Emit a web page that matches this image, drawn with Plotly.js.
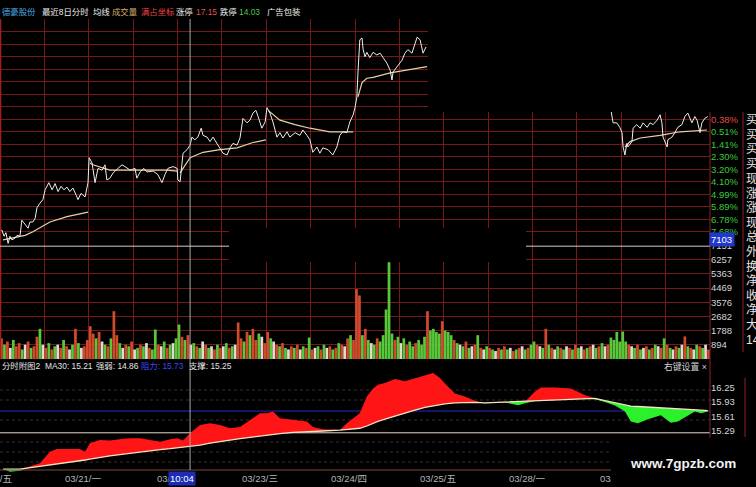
<!DOCTYPE html>
<html><head><meta charset="utf-8">
<script src="https://cdn.plot.ly/plotly-3.0.1.min.js"></script>
<style>html,body{margin:0;padding:0;background:#000;overflow:hidden}#chart{width:756px;height:487px}</style>
</head><body><div id="chart"></div>
<script>
// ---------------- DATA ----------------
const stockName = '德豪股份';
const limitUp = 17.15, limitDown = 14.03;
const dayLabels = ['03/18/五','03/21/一','03/','03/23/三','03/24/四','03/25/五','03/28/一','03/'];
const crossTime = '10:04';
const crossVolume = 7103;

// price (minute index within 8 sessions, value)
const priceIdx = [0,5,11,16,22,27,32,41,46,54,59,68,76,81,89,95,100,108,116,122,127,132,141,149,157,165,173,181,189,197,206,211,219,230,238,
 241,249,257,265,276,284,289,297,306,319,330,338,352,365,370,379,389,397,414,427,438,446,454,468,479,
 481,487,495,506,514,519,527,535,544,549,560,568,576,587,595,603,614,622,630,641,649,654,657,668,676,684,692,698,708,717,
 722,730,738,749,757,765,776,784,798,811,819,830,838,846,857,865,873,887,900,911,919,927,938,946,955,
 960,965,968,973,979,982,987,992,1000,1009,1019,1028,1036,1046,1055,1060,1063,1073,1087,1095,1103,1114,1122,1128,1136,1144,1152,
 null,
 1650,1655,1658,1668,1676,1682,1685,1690,1695,1698,1709,1712,1722,1731,1739,1750,1758,1766,1777,1785,1790,1793,1804,1806,1817,1825,1833,1844,1852,1860,1871,1879,1885,1893,1898,1906,1914];
const priceVal = [14.39,14.41,14.34,14.38,14.26,14.34,14.30,14.32,14.35,14.34,14.52,14.47,14.43,14.50,14.50,14.54,14.66,14.71,14.75,14.86,14.91,14.94,14.86,14.93,14.84,14.90,14.86,14.89,14.84,14.88,14.80,14.75,14.82,14.78,14.94,
 15.22,15.16,14.94,15.10,15.08,15.14,14.97,14.99,15.05,15.10,15.14,15.12,15.08,15.10,14.99,15.06,15.10,15.06,15.07,15.03,14.94,15.03,15.10,15.12,15.10,
 14.97,14.95,15.27,15.31,15.36,15.45,15.42,15.45,15.55,15.47,15.45,15.40,15.45,15.38,15.33,15.27,15.25,15.33,15.38,15.36,15.44,15.59,15.66,15.61,15.64,15.72,15.75,15.68,15.55,15.62,
 15.78,15.72,15.62,15.45,15.50,15.44,15.51,15.45,15.50,15.47,15.53,15.47,15.42,15.28,15.34,15.27,15.33,15.31,15.25,15.34,15.47,15.51,15.50,15.62,15.70,
 15.78,15.90,16.17,16.54,16.56,16.43,16.35,16.40,16.34,16.40,16.37,16.39,16.34,16.28,16.20,16.09,16.18,16.24,16.31,16.39,16.43,16.39,16.48,16.57,16.54,16.39,16.46,
 null,
 15.80,15.70,15.61,15.61,15.56,15.50,15.34,15.25,15.38,15.34,15.40,15.55,15.59,15.55,15.61,15.56,15.61,15.59,15.64,15.70,15.61,15.45,15.34,15.42,15.45,15.50,15.56,15.59,15.68,15.72,15.61,15.68,15.64,15.50,15.61,15.66,15.68];

// daily average price line
const avgIdx = [8,32,68,89,135,181,238,null,243,251,297,360,452,479,null,487,514,549,595,641,684,719,null,725,757,798,838,892,955,null,968,979,992,1009,1055,1101,1155,null,1690,1704,1731,1785,1839,1874,1912];
const avgVal = [14.30,14.32,14.35,14.39,14.50,14.56,14.61,null,15.16,15.14,15.08,15.08,15.08,15.07,null,15.05,15.22,15.28,15.31,15.33,15.39,15.42,null,15.75,15.64,15.59,15.55,15.51,15.51,null,15.90,16.06,16.11,16.12,16.17,16.20,16.24,null,15.34,15.40,15.44,15.47,15.51,15.52,15.53];

// volume, 8-minute buckets, 30 per session
const volume = [
 1300,900,1100,700,1200,800,1000,600,900,1100,700,800,1400,1900,900,700,1000,600,800,900,700,1200,800,600,900,1900,1000,700,800,1200,
 2065,1600,1300,1700,1100,900,800,1300,3010,1500,1000,700,900,800,1100,600,700,900,800,1000,700,600,1860,900,800,1100,700,900,1000,1300,
 2170,1400,1200,1500,900,1000,800,700,1100,900,700,800,600,900,700,800,1000,700,800,900,2300,1300,1100,1700,1500,1900,1200,1600,1400,1000,
 1700,1300,1100,900,800,1000,700,600,800,700,900,600,800,700,1350,600,700,800,600,900,700,800,600,700,1000,900,800,1300,1500,1200,
 4400,4000,1500,1900,1200,1000,900,1300,1100,1500,3117,6094,1600,1200,1400,1000,1300,900,1100,800,1000,1200,900,1400,3010,1800,1900,1700,1600,2380,
 1800,1700,1500,1200,1000,900,800,1100,700,800,900,1500,700,600,800,700,600,500,700,600,800,600,700,500,600,700,800,600,700,900,
 1100,900,800,700,1900,900,700,600,800,700,600,800,700,600,900,700,800,600,700,800,900,700,800,1000,800,900,1350,1200,1700,1100,
 1730,1100,900,800,700,900,600,700,800,600,700,900,800,700,1300,900,700,600,800,700,900,1420,800,700,600,900,800,700,900,600];
// r = up, g = down, w = flat
const volDir = 'rgrwgrrgwrgrrgwrgrgwrgrwgrgwrr' + 'rrgrwgrgrrgwrgrwgrgwrggrwgrgwg' + 'grgrwgrgwrgwrgrwgrgwrrgrgrrgwr' +
 'rgwrgrgwrgrwgrgrwgrgwrgrgrwrgr' + 'rrgrgwgrgggggrgwgrggrgggrggggr' + 'gggrgwgrgwrgrwgrgwrgrgwrgrwgrg' +
 'grwgrgrwgrgwrgrgwrgrwgrgwrgggg' + 'ggrwgrgwrgrgwrgrgwrgwrgrwgrgwr';

// indicator (分时附图2)
const ma30Now = 15.21, strength = 14.86, resistance = 15.73, support = 15.25;
const indIdx = [8,27,54,73,108,135,154,181,216,230,243,270,297,324,352,379,406,433,460,479,495,514,541,568,595,622,649,676,703,722,738,757,792,830,846,873,919,938,973,992,1009,1022,1041,1068,1095,1122,1149,1171,1190,1203,1230,1257,1284,1311,1338,1366,1382,1401,1420,1447,1463,1501,1544,1582,1609,1636,1663,1690,1706,1725,1752,1787,1814,1833,1860,1879,1896,1914];
const indUpper = [14.45,14.39,14.41,14.49,14.58,14.83,14.89,14.89,14.89,14.83,15.02,15.09,15.08,15.11,15.13,15.13,15.09,15.05,15.11,15.13,15.08,15.24,15.42,15.46,15.42,15.35,15.38,15.53,15.68,15.68,15.72,15.57,15.53,15.50,15.38,15.33,15.31,15.46,15.68,16.05,16.23,16.31,16.35,16.44,16.39,16.46,16.53,16.57,16.46,16.34,16.12,16.05,15.96,15.90,15.91,15.94,15.89,15.86,15.90,16.16,16.25,16.25,16.23,16.08,15.99,15.93,15.85,15.72,15.50,15.46,15.55,15.64,15.47,15.50,15.64,15.72,15.68,15.72];
const indMA = [14.45,14.45,14.45,14.47,14.51,14.54,14.56,14.58,14.63,14.65,14.67,14.71,14.74,14.77,14.80,14.83,14.86,14.88,14.90,14.92,14.93,14.94,14.98,15.02,15.06,15.09,15.12,15.15,15.18,15.20,15.22,15.23,15.26,15.28,15.29,15.29,15.31,15.32,15.35,15.40,15.46,15.50,15.55,15.62,15.69,15.75,15.81,15.84,15.87,15.89,15.91,15.92,15.92,15.91,15.92,15.92,15.92,15.93,15.94,15.95,15.96,15.97,15.99,16.01,16.01,15.96,15.91,15.86,15.84,15.83,15.82,15.80,15.79,15.78,15.77,15.76,15.75,15.74];

// axis tick labels
const priceTicks = [16.77,16.63,16.49,16.35,16.21,16.07,15.93,15.79,15.65,15.51,15.37,15.23,15.09,14.95,14.81,14.67,14.53,14.39];
const pctLabels = ['','','','','','','','','0.38%','0.51%','1.41%','2.30%','3.20%','4.10%','4.99%','5.89%','6.78%','7.68%'];
const volTicks = [894,1788,2682,3576,4469,5363,6257,7151];
const indTicks = [15.29,15.61,15.93,16.25];
const sideLabels = ['买','买','买','买','现','涨','涨','现','总','外','换','净','收','净','大','14'];

// ---------------- DRAW ----------------
const H = 487, PW = 710;
const px = v => v / PW, py = v => 1 - v / H;
const FONT = 'Liberation Sans, Noto Sans CJK SC, sans-serif';
const GRID = '#761818';
const sessions = 8, perDay = 240;
const halfDayTicks = []; for (let i = 0; i <= sessions * 2; i++) halfDayTicks.push(i * perDay / 2);
const dirColor = {r:'#d24a2c', g:'#58c83a', w:'#dedcd0'};

const traces = [
 {x: avgIdx, y: avgVal, xaxis:'x', yaxis:'y', mode:'lines', line:{color:'#e6d2a4', width:1.2}, connectgaps:false},
 {x: priceIdx, y: priceVal, xaxis:'x', yaxis:'y', mode:'lines', line:{color:'#eeeeee', width:1}, connectgaps:false},
 {type:'bar', x: volume.map((v,i) => i*8+4), y: volume, xaxis:'x2', yaxis:'y2', width:7.4,
  marker:{color: volume.map((v,i) => dirColor[volDir[i]]), line:{width:0}}},
 {x: indIdx, y: indMA, xaxis:'x3', yaxis:'y3', mode:'lines', line:{width:0, color:'rgba(0,0,0,0)'}},
 {x: indIdx, y: indUpper.map((u,i) => Math.max(u, indMA[i])), xaxis:'x3', yaxis:'y3', mode:'lines', fill:'tonexty', fillcolor:'#ff1515', line:{width:0, color:'rgba(0,0,0,0)'}},
 {x: indIdx, y: indMA, xaxis:'x3', yaxis:'y3', mode:'lines', line:{width:0, color:'rgba(0,0,0,0)'}},
 {x: indIdx, y: indUpper.map((u,i) => Math.min(u, indMA[i])), xaxis:'x3', yaxis:'y3', mode:'lines', fill:'tonexty', fillcolor:'#2cf02c', line:{width:0, color:'rgba(0,0,0,0)'}},
 {x: indIdx, y: indMA, xaxis:'x3', yaxis:'y3', mode:'lines', line:{color:'#f6e2c4', width:1.3}}
];

const xBase = {range:[0, sessions*perDay], showticklabels:false, ticks:'', zeroline:false, showline:false, fixedrange:true};
const yBase = {side:'right', ticks:'', zeroline:false, showline:false, fixedrange:true, tickfont:{family:FONT, size:9.5, color:'#d4d4d4'}};

const shapes = [];
const line = (x0,y0,x1,y1,color,width,dash,layer) => shapes.push({type:'line', xref:'paper', yref:'paper', x0:px(x0), x1:px(x1), y0:py(y0), y1:py(y1), line:{color, width, dash:dash||'solid'}, layer:layer||'above'});
// indicator dotted guides
[390,400,420,442,452,462].forEach(y => line(0,y,PW,y,'#3a2e2e',1,'dot','below'));
// resistance / support
shapes.push({type:'line', xref:'paper', yref:'y3', x0:0, x1:1, y0:resistance, y1:resistance, line:{color:'#2828c8', width:1}, layer:'below'});
shapes.push({type:'line', xref:'paper', yref:'y3', x0:0, x1:1, y0:support, y1:support, line:{color:'#e8d8cc', width:1}, layer:'below'});
line(0,470,PW,470,'#7a4a3a',1.2);
// borders
line(0.5,19,0.5,359,'#a02020',1.5);
line(PW,19,PW,470,'#902020',1);
line(743,112,743,352,'#902020',1);
line(745,378,745,437,'#902020',1);
// crosshair
shapes.push({type:'line', xref:'x', yref:'paper', x0:514, x1:514, y0:py(470), y1:py(19), line:{color:'#a8a8a8', width:1}, layer:'above'});
shapes.push({type:'line', xref:'paper', yref:'y2', x0:0, x1:1, y0:crossVolume, y1:crossVolume, line:{color:'#dcc8c8', width:1}, layer:'above'});
// black covering windows
const rect = (x0,y0,x1,y1) => shapes.push({type:'rect', xref:'paper', yref:'paper', x0:px(x0), x1:px(x1), y0:py(y1), y1:py(y0), fillcolor:'#000', line:{width:0}, layer:'above'});
rect(428,0,760,112);
rect(229,228,526,262);

const ann = [];
const txt = (x,y,text,color,size,anchor,extra) => ann.push(Object.assign({xref:'paper', yref:'paper', x:px(x), y:py(y), text, showarrow:false, xanchor:anchor||'left', yanchor:'middle', font:{family:FONT, size, color}}, extra||{}));

// header
const headerTexts = [stockName,'最近8日分时','均线','成交量','满占坐标','涨停',limitUp.toFixed(2),'跌停',limitDown.toFixed(2),'广告包装'];
const headerX = [0,40,91,110,139,174,194,218,237,265];
const headerC = ['#4aa8e0','#eeeeee','#eeeeee','#d6ae6e','#e84444','#eeeeee','#e05050','#eeeeee','#52c452','#eeeeee'];
headerTexts.forEach((t,i) => txt(headerX[i], 12, t, headerC[i], 8.4));

// indicator header
const indHead = ['分时附图2','MA30: '+ma30Now.toFixed(2),'强弱: '+strength.toFixed(2),'阻力: '+resistance.toFixed(2),'支撑: '+support.toFixed(2)];
const indHeadX = [0,43,94,139,187];
const indHeadC = ['#e6e6e6','#e6e6e6','#e6e6e6','#3848ff','#e6e6e6'];
indHead.forEach((t,i) => txt(indHeadX[i], 366, t, indHeadC[i], 8.4));
txt(662, 366, '右键设置 ×', '#d0d0d0', 8.8);

// side column
sideLabels.forEach((t,i) => txt(744, 120 + 14.65*i, t, '#e4e4e4', 12));

// day labels along bottom
dayLabels.forEach((t,i) => {
  const short = t.length <= 3;
  ann.push({xref:'x3', yref:'paper', x:i*perDay, y:py(478), xshift: short ? -23 : -6, text:t, showarrow:false,
    xanchor: short ? 'left' : 'center', yanchor:'middle', font:{family:FONT, size:9.5, color:'#b4b4b4'}});
});
// crosshair value boxes
txt(168, 478, crossTime, '#ffffff', 9.5, 'left', {bgcolor:'#1c2cb4', borderpad:1});
txt(709, 239.5, String(crossVolume), '#ffffff', 9.5, 'left', {bgcolor:'#2238cc', borderpad:1, width:22, align:'left'});
// bottom-right covering window + watermark
ann.push({xref:'paper', yref:'paper', x:px(611), y:py(438), xanchor:'left', yanchor:'top', text:' ', showarrow:false, width:150, height:52, bgcolor:'#000', borderpad:0, borderwidth:0});
txt(683, 463, '<b>www.7gpzb.com</b>', '#f2f2f2', 13.5, 'center');

const layout = {
 width:756, height:487, margin:{l:0, r:46, t:0, b:0}, paper_bgcolor:'#000', plot_bgcolor:'#000',
 showlegend:false, hovermode:false,
 xaxis: Object.assign({}, xBase, {anchor:'y', showgrid:true, gridcolor:GRID, gridwidth:1, tickvals:halfDayTicks}),
 xaxis2: Object.assign({}, xBase, {anchor:'y2', showgrid:true, gridcolor:GRID, gridwidth:1, tickvals:halfDayTicks}),
 xaxis3: Object.assign({}, xBase, {anchor:'y3', showgrid:false}),
 yaxis: Object.assign({}, yBase, {anchor:'x', domain:[py(245), py(19)], range:[14.242, 16.773], tickvals:priceTicks,
   ticktext: pctLabels.map(t => t === '0.38%' ? '<span style="color:#e84848">'+t+'</span>' : t),
   showgrid:true, gridcolor:GRID, tickfont:{family:FONT, size:9.5, color:'#3cc83c'}}),
 yaxis2: Object.assign({}, yBase, {anchor:'x2', domain:[py(359), py(245)], range:[0, 7177], tickvals:volTicks,
   ticktext: volTicks.map(String), showgrid:true, gridcolor:GRID}),
 yaxis3: Object.assign({}, yBase, {anchor:'x3', domain:[py(472), py(370)], range:[14.385, 16.636], tickvals:indTicks,
   ticktext: indTicks.map(v => v.toFixed(2)), showgrid:false}),
 shapes, annotations: ann
};

Plotly.newPlot('chart', traces, layout, {staticPlot:true, displayModeBar:false});
</script></body></html>
